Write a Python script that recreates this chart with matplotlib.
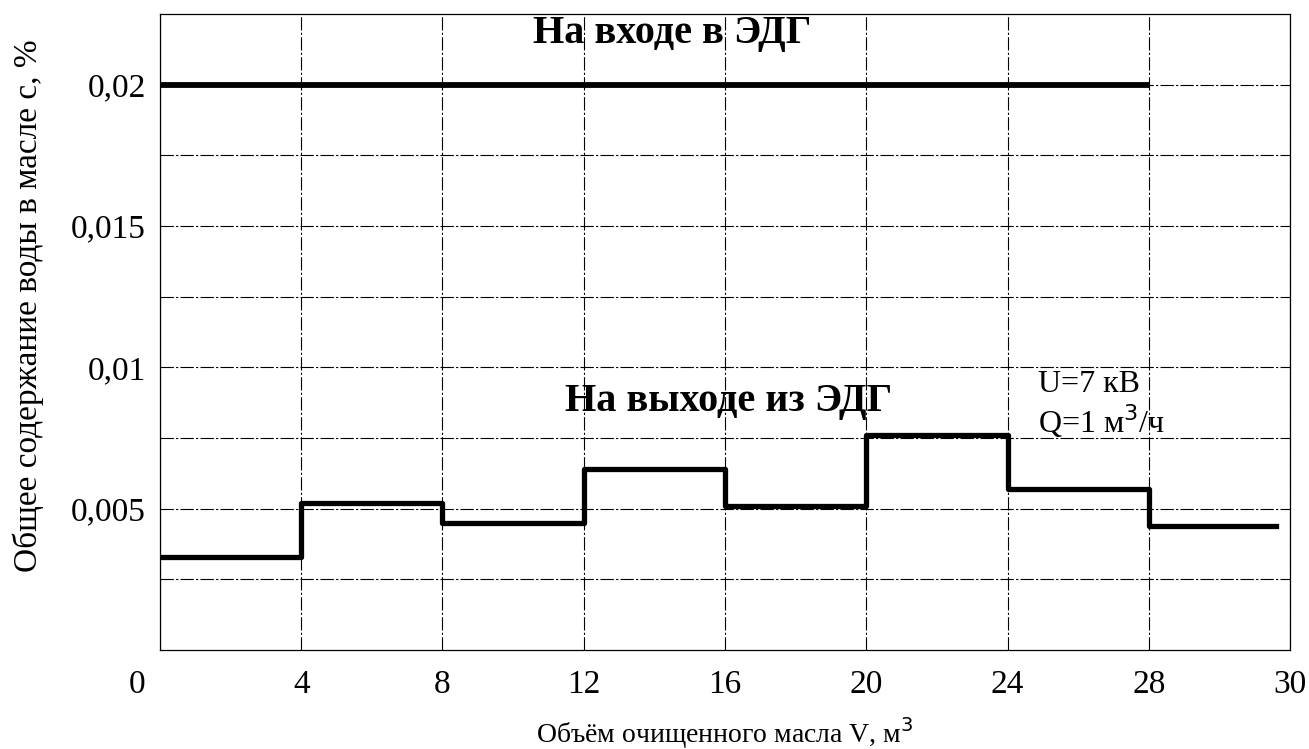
import matplotlib
import matplotlib.pyplot as plt
import numpy as np
from matplotlib.ticker import FixedLocator, FuncFormatter

# данные (читаются с графика)
inlet_v = [0, 28]
inlet_c = [0.02, 0.02]
outlet_v = [0, 4, 8, 12, 16, 20, 24, 28, 29.8]
outlet_c = [0.0033, 0.0052, 0.0045, 0.0064, 0.0051, 0.0076, 0.0057, 0.0044]
x_ticks = [0, 4, 8, 12, 16, 20, 24, 28, 30]
y_grid = [0.0025, 0.005, 0.0075, 0.01, 0.0125, 0.015, 0.0175, 0.02]
y_labeled = [0.005, 0.01, 0.015, 0.02]


# ось V в оригинале: шаг 4 м3 до 28, затем 28-30 той же ширины
def fwd(x):
  x = np.asarray(x, dtype=float)
  return np.where(x <= 28, x / 4.0, 7 + (x - 28) / 2.0)


def inv(p):
  p = np.asarray(p, dtype=float)
  return np.where(p <= 7, p * 4.0, 28 + (p - 7) * 2.0)


def y_fmt(v, pos):
  for lv in y_labeled:
    if abs(v - lv) < 1e-9:
      return ('%g' % lv).replace('.', ',')
  return ''


def draw_plot():
  matplotlib.rcParams.update({'font.family': 'Liberation Serif', 'font.size': 24})
  fig = plt.figure(figsize=(13.09, 7.49), dpi=100)
  ax = fig.add_axes([0.1222, 0.1322, 0.8633, 0.8491])
  ax.set_xscale('function', functions=(fwd, inv))

  ax.plot(inlet_v, inlet_c, color='black', linewidth=4.2, solid_capstyle='butt')
  steps_c = outlet_c + [outlet_c[-1]]
  ax.step(outlet_v, steps_c, where='post', color='black', linewidth=3.8)

  ax.set_xlim(0, 30)
  ax.set_ylim(0, 0.0225)
  ax.xaxis.set_major_locator(FixedLocator(x_ticks))
  ax.set_xticklabels([str(t) for t in x_ticks])
  ax.yaxis.set_major_locator(FixedLocator(y_grid))
  ax.yaxis.set_major_formatter(FuncFormatter(y_fmt))
  ax.tick_params(length=0, labelsize=24)
  ax.tick_params(axis='x', pad=14)
  ax.tick_params(axis='y', pad=10)
  for lbl in ax.get_xticklabels():
    if lbl.get_text() == '0':
      lbl.set_transform(lbl.get_transform() + matplotlib.transforms.ScaledTranslation(-0.23, 0, fig.dpi_scale_trans))

  ax.grid(True, color='black', linewidth=0.8, linestyle=(0, (12, 2, 2, 2)))
  for s in ax.spines.values():
    s.set_linewidth(0.9)

  ax.set_xlabel('Объём очищенного масла V, м$^3$', fontsize=20)
  ax.set_ylabel('Общее содержание воды в масле с, %', fontsize=24)
  ax.xaxis.set_label_coords(0.5, -0.146)
  ax.xaxis.label.set_va('baseline')
  ax.yaxis.set_label_coords(-0.103, 0.541)

  ax.text(14.5, 0.0218, 'На входе в ЭДГ', fontsize=29, fontweight='bold', ha='center', va='center')
  ax.text(16.1, 0.0088, 'На выходе из ЭДГ', fontsize=29, fontweight='bold', ha='center', va='center')
  ax.text(24.85, 0.0094, 'U=7 кВ', fontsize=23, ha='left', va='center')
  ax.text(24.85, 0.0081, 'Q=1 м$^3$/ч', fontsize=23, ha='left', va='center')

  plt.savefig('out.png', dpi=100)


if __name__ == "__main__":
  draw_plot()
